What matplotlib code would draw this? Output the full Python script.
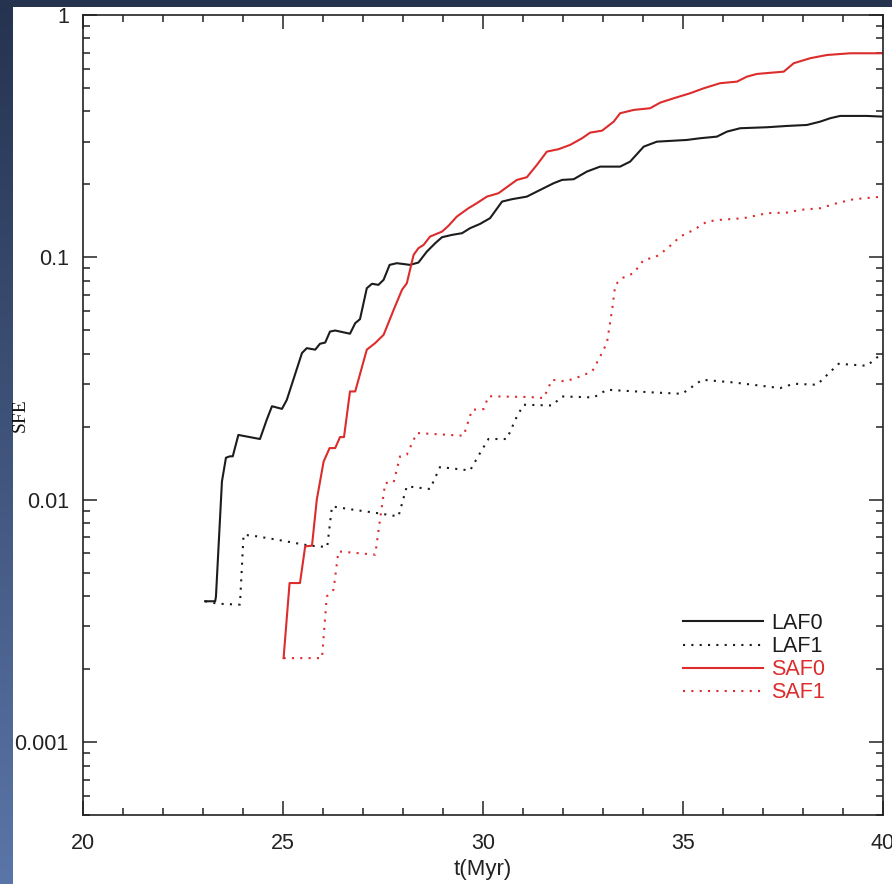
import numpy as np
import matplotlib
matplotlib.use("Agg")
import matplotlib.pyplot as plt
from matplotlib.patches import Rectangle
from matplotlib.colors import LinearSegmentedColormap
from matplotlib.ticker import MultipleLocator, LogLocator, FuncFormatter, NullFormatter

# Star formation efficiency histories, t in Myr
laf0_t = [23.06, 23.31, 23.33, 23.48, 23.58, 23.68, 23.75, 23.89, 24.43, 24.60,
          24.73, 24.98, 25.10, 25.48, 25.60, 25.81, 25.93, 26.06, 26.18, 26.31,
          26.68, 26.81, 26.93, 27.10, 27.23, 27.39, 27.52, 27.67, 27.85, 28.18,
          28.39, 28.60, 28.81, 28.98, 29.23, 29.48, 29.68, 29.93, 30.18, 30.48,
          30.73, 31.10, 31.35, 31.77, 31.98, 32.27, 32.60, 32.93, 33.43, 33.68,
          34.02, 34.35, 35.10, 35.43, 35.85, 36.10, 36.43, 37.10, 37.60, 38.10,
          38.43, 38.68, 38.93, 39.60, 40.00]
laf0_sfe = [0.00381, 0.00381, 0.00398, 0.0119, 0.0149, 0.0151, 0.0151, 0.0185, 0.0178, 0.0214,
            0.0243, 0.0237, 0.0258, 0.0403, 0.0422, 0.0416, 0.0440, 0.0445, 0.0494, 0.0499,
            0.0484, 0.0535, 0.0556, 0.0746, 0.0778, 0.0770, 0.0808, 0.0931, 0.0946, 0.0931,
            0.0952, 0.1056, 0.1144, 0.1211, 0.1238, 0.1258, 0.1319, 0.1374, 0.1451, 0.1699,
            0.1738, 0.1781, 0.1868, 0.2023, 0.2087, 0.2101, 0.2259, 0.2368, 0.2368, 0.2483,
            0.2863, 0.3002, 0.3051, 0.3101, 0.3149, 0.3302, 0.3410, 0.3442, 0.3485, 0.3518,
            0.3631, 0.3750, 0.3833, 0.3833, 0.3807]

laf1_t = [23.06, 23.39, 23.93, 24.02, 24.35, 24.85, 25.68, 26.11, 26.23, 26.77,
          27.35, 27.89, 28.10, 28.68, 28.93, 29.68, 29.93, 30.14, 30.60, 30.85,
          31.02, 31.73, 31.98, 32.77, 33.10, 34.27, 34.98, 35.48, 36.27, 37.43,
          37.77, 38.35, 38.89, 39.60, 40.00]
laf1_sfe = [0.00381, 0.00372, 0.00369, 0.00717, 0.00706, 0.00684, 0.00646, 0.00638, 0.00938, 0.00909,
            0.00881, 0.00853, 0.01135, 0.01107, 0.01364, 0.0132, 0.01558, 0.0178, 0.0178, 0.02206,
            0.02465, 0.02448, 0.02667, 0.02642, 0.02842, 0.02770, 0.02735, 0.03125, 0.03046, 0.02888,
            0.03009, 0.02980, 0.03637, 0.03569, 0.04050]

saf0_t = [25.02, 25.17, 25.43, 25.56, 25.73, 25.85, 26.02, 26.17, 26.31, 26.43,
          26.53, 26.68, 26.81, 27.10, 27.31, 27.52, 27.77, 27.98, 28.10, 28.27,
          28.39, 28.52, 28.68, 28.98, 29.14, 29.35, 29.64, 29.85, 30.10, 30.39,
          30.60, 30.85, 31.10, 31.35, 31.60, 31.89, 32.18, 32.48, 32.68, 32.98,
          33.27, 33.43, 33.77, 34.18, 34.43, 34.77, 35.18, 35.52, 35.93, 36.35,
          36.60, 36.85, 37.52, 37.77, 38.18, 38.60, 39.18, 40.00]
saf0_sfe = [0.00222, 0.00453, 0.00453, 0.00642, 0.00646, 0.0100, 0.01435, 0.01633, 0.01633, 0.01813,
            0.01813, 0.02797, 0.02797, 0.0416, 0.0443, 0.0479, 0.0607, 0.0735, 0.0782, 0.1024,
            0.1091, 0.1126, 0.1218, 0.1277, 0.1349, 0.1473, 0.1595, 0.1673, 0.1781, 0.1839,
            0.1948, 0.2087, 0.2141, 0.2407, 0.2731, 0.2794, 0.2910, 0.3101, 0.3270, 0.3333,
            0.3631, 0.3932, 0.4058, 0.4124, 0.4348, 0.4534, 0.4754, 0.4985, 0.5231, 0.5310,
            0.5568, 0.5712, 0.5838, 0.6324, 0.6632, 0.6839, 0.6951, 0.6951]

saf1_t = [25.02, 25.98, 26.10, 26.27, 26.39, 27.31, 27.43, 27.56, 27.77, 27.93,
          28.10, 28.35, 29.52, 29.73, 30.02, 30.14, 31.18, 31.52, 31.73, 32.06,
          32.43, 32.73, 32.89, 33.10, 33.23, 33.31, 33.48, 33.77, 34.02, 34.31,
          34.48, 34.68, 34.93, 35.27, 35.60, 35.93, 36.52, 37.10, 37.60, 37.93,
          38.43, 38.85, 39.27, 40.00]
saf1_sfe = [0.00222, 0.00222, 0.00399, 0.00426, 0.00612, 0.00593, 0.00827, 0.01172, 0.01178, 0.01509,
            0.01534, 0.01884, 0.01836, 0.0235, 0.02366, 0.02672, 0.02652, 0.02627, 0.03125, 0.03075,
            0.03225, 0.0338, 0.03778, 0.0443, 0.0607, 0.0770, 0.0821, 0.0861, 0.0976, 0.1002,
            0.1047, 0.1115, 0.1218, 0.1298, 0.1405, 0.1428, 0.1451, 0.1521, 0.1530, 0.1570,
            0.1595, 0.1673, 0.1738, 0.1781]

series_labels = ["LAF0", "LAF1", "SAF0", "SAF1"]

BLACK = "#1c1c1c"
RED = "#dc2c2c"
SANS = "Liberation Sans"
SERIF = "Liberation Serif"

W, H = 892, 884
fig = plt.figure(figsize=(W / 100, H / 100), dpi=100)

# slide-style backdrop with white panel
bg = fig.add_axes([0, 0, 1, 1], zorder=-5)
bg.set_axis_off()
grad = np.linspace(0, 1, 256).reshape(-1, 1)
cmap = LinearSegmentedColormap.from_list("slide", ["#25334f", "#5a75a8"])
bg.imshow(grad, aspect="auto", cmap=cmap, extent=[0, 1, 0, 1], origin="upper")
bg.add_patch(Rectangle((13 / W, 0), 1 - 13 / W, 1 - 7 / H, facecolor="white",
                       edgecolor="none", transform=bg.transAxes))
bg.set_xlim(0, 1)
bg.set_ylim(0, 1)

ax = fig.add_axes([82.7 / W, (H - 815) / H, (883 - 82.7) / W, (815 - 15) / H])
ax.set_facecolor("none")

dotted = (0, (1, 3))
ax.plot(laf0_t, laf0_sfe, color=BLACK, lw=1.5, label=series_labels[0])
ax.plot(laf1_t, laf1_sfe, color=BLACK, lw=1.5, ls=dotted, label=series_labels[1])
ax.plot(saf0_t, saf0_sfe, color=RED, lw=1.5, label=series_labels[2])
ax.plot(saf1_t, saf1_sfe, color=RED, lw=1.5, ls=dotted, label=series_labels[3])

ax.set_yscale("log")
ax.set_xlim(20, 40)
ax.set_ylim(5e-4, 1)

ax.xaxis.set_major_locator(MultipleLocator(5))
ax.xaxis.set_minor_locator(MultipleLocator(1))
ax.yaxis.set_major_locator(LogLocator(base=10))
ax.yaxis.set_minor_locator(LogLocator(base=10, subs=np.arange(2, 10)))
ax.yaxis.set_major_formatter(FuncFormatter(lambda v, p: "%g" % v))
ax.yaxis.set_minor_formatter(NullFormatter())

ax.tick_params(which="both", direction="in", top=True, right=True, colors="#222222",
               width=1.1)
ax.tick_params(which="major", length=10)
ax.tick_params(which="minor", length=5)
ax.tick_params(axis="y", which="major", pad=10)
ax.tick_params(axis="x", which="major", pad=13)
for lab in ax.get_xticklabels() + ax.get_yticklabels():
    lab.set_fontfamily(SANS)
    lab.set_fontsize(15.5)
    lab.set_color("#222222")
for sp in ax.spines.values():
    sp.set_linewidth(1.2)
    sp.set_color("#222222")

ax.set_xlabel("t(Myr)", fontfamily=SANS, fontsize=16, color="#222222", va="center")
ax.xaxis.set_label_coords(0.5, -(870 - 815) / 800)
ax.set_ylabel("SFE", fontfamily=SERIF, fontsize=14, color="#111111", va="center")
ax.yaxis.set_label_coords((20 - 82.7) / 800.3, (815 - 415) / 800)

leg = ax.legend(loc="upper left", bbox_to_anchor=(683 / W, 1 - 613 / H),
                bbox_transform=fig.transFigure, frameon=False, handlelength=3.7,
                handletextpad=0.4, labelspacing=0.1, borderpad=0, borderaxespad=0,
                prop={"family": SANS, "size": 15.5},
                labelcolor=[BLACK, BLACK, RED, RED])

fig.savefig("out.png", dpi=100)
